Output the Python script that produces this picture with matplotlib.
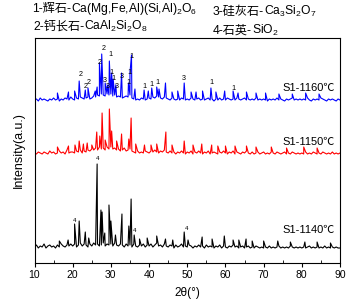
import numpy as np
import matplotlib
matplotlib.use('Agg')
import matplotlib.pyplot as plt

plt.rcParams['font.family'] = ['Liberation Sans', 'Noto Sans CJK SC']
plt.rcParams['mathtext.fontset'] = 'custom'
plt.rcParams['mathtext.rm'] = 'Liberation Sans'
plt.rcParams['mathtext.it'] = 'Liberation Sans:italic'

# 2theta sampling of the background, 10..90 deg every 0.5 deg
grid = np.arange(10, 90.01, 0.5)

# background noise (units ~ pixels above baseline)
blue_noise = [2, 3, 1, 4, 2, 3, 2, 1, 3, 2, 4, 2, 3, 1, 3, 2, 4, 3, 2, 5,
              3, 2, 4, 3, 5, 4, 3, 4, 5, 3, 4, 6, 5, 7, 6, 8, 7, 6, 8, 7,
              8, 6, 7, 5, 6, 5, 4, 5, 6, 5, 7, 4, 3, 2, 3, 2, 4, 3, 2, 3,
              4, 3, 5, 4, 6, 5, 4, 3, 5, 4, 3, 2, 4, 3, 2, 3, 2, 4, 3, 2,
              3, 2, 4, 3, 2, 3, 4, 2, 3, 2, 3, 4, 2, 3, 1, 3, 2, 4, 2, 3,
              2, 4, 3, 2, 3, 2, 4, 3, 2, 3, 4, 2, 3, 2, 3, 2, 4, 2, 3, 2,
              3, 2, 1, 3, 2, 3, 2, 4, 2, 3, 2, 1, 3, 2, 3, 4, 2, 3, 2, 3,
              2, 3, 2, 4, 2, 1, 3, 2, 3, 2, 4, 3, 2, 1, 3, 2, 3, 2, 1, 3, 2]
red_noise = [3, 2, 4, 3, 2, 4, 3, 2, 5, 3, 4, 2, 3, 5, 3, 4, 2, 6, 3, 4,
             4, 3, 5, 4, 6, 3, 5, 4, 6, 5, 7, 6, 8, 6, 9, 7, 8, 6, 9, 7,
             9, 7, 8, 6, 7, 5, 6, 8, 5, 6, 7, 5, 4, 3, 5, 3, 4, 3, 5, 4,
             3, 5, 4, 6, 4, 3, 5, 4, 6, 4, 3, 5, 3, 4, 2, 4, 3, 5, 3, 2,
             4, 3, 5, 2, 4, 3, 5, 3, 2, 4, 3, 5, 2, 3, 4, 3, 2, 4, 3, 5,
             3, 2, 4, 3, 5, 2, 4, 3, 2, 4, 3, 5, 3, 2, 4, 2, 3, 4, 2, 3,
             4, 2, 3, 2, 4, 3, 2, 4, 3, 2, 3, 4, 2, 3, 2, 4, 3, 2, 3, 2,
             3, 2, 4, 2, 3, 2, 4, 3, 2, 3, 2, 4, 3, 2, 3, 2, 4, 2, 3, 2, 3]
black_noise = [3, 5, 2, 4, 3, 6, 2, 4, 5, 3, 4, 2, 5, 3, 6, 4, 3, 5, 4, 6,
               4, 6, 3, 5, 7, 4, 6, 5, 3, 6, 4, 7, 5, 6, 4, 5, 7, 4, 6, 5,
               6, 4, 7, 5, 4, 6, 5, 3, 6, 4, 5, 3, 6, 4, 3, 5, 4, 6, 3, 5,
               4, 6, 3, 5, 7, 4, 5, 3, 6, 4, 3, 5, 4, 2, 5, 3, 4, 6, 3, 4,
               3, 5, 4, 2, 4, 3, 5, 3, 4, 2, 5, 3, 4, 3, 2, 4, 3, 5, 2, 4,
               3, 2, 4, 3, 5, 3, 4, 2, 3, 4, 2, 3, 4, 2, 3, 2, 4, 3, 2, 3,
               2, 3, 2, 4, 2, 3, 2, 3, 4, 2, 3, 2, 3, 2, 4, 3, 2, 3, 2, 3,
               2, 3, 2, 3, 4, 2, 3, 2, 3, 2, 3, 2, 4, 2, 3, 2, 3, 2, 3, 2, 2]

# diffraction peaks: position (2theta) and height above background
blue_pos = [16.0, 18.9, 20.5, 21.7, 23.3, 24.0, 25.9, 26.4, 27.0, 27.6, 28.5, 29.1,
            29.6, 30.2, 30.6, 31.3, 32.8, 34.6, 35.0, 35.4, 36.3, 38.7, 39.8, 40.7,
            42.0, 42.6, 44.3, 46.0, 47.5, 49.2, 51.0, 52.3, 54.0, 56.2, 57.5, 59.8,
            62.0, 63.3, 65.5, 68.0, 70.5, 74.0, 77.5, 81.0, 84.5]
blue_h = [6, 7, 8, 18, 9, 11, 8, 12, 36, 45, 16, 14,
          38, 26, 20, 14, 26, 16, 26, 44, 10, 9, 8, 11,
          12, 10, 16, 7, 8, 16, 7, 7, 8, 11, 7, 8,
          8, 6, 7, 6, 6, 5, 5, 6, 5]
red_pos = [16.0, 18.9, 20.6, 21.7, 22.8, 23.8, 25.0, 26.3, 27.1, 27.7, 28.5, 29.6,
           30.2, 31.5, 32.8, 34.7, 35.3, 36.5, 38.8, 40.5, 42.0, 44.4, 46.0, 49.2,
           51.5, 53.8, 56.4, 58.0, 60.0, 62.5, 65.5, 68.0, 72.0, 76.0, 80.5, 84.0]
red_h = [6, 7, 8, 12, 9, 10, 8, 21, 17, 40, 13, 44,
         22, 12, 19, 14, 35, 9, 8, 8, 9, 21, 8, 12,
         8, 9, 8, 7, 7, 7, 7, 6, 6, 5, 6, 5]
black_pos = [16.5, 18.8, 20.5, 21.7, 23.3, 24.2, 26.4, 27.4, 27.7, 28.4, 29.5, 30.0,
             31.2, 32.9, 34.7, 35.3, 36.1, 37.5, 39.5, 42.0, 44.3, 46.2, 49.2, 50.2,
             53.9, 56.5, 59.7, 62.0, 63.5, 65.4, 67.0, 70.0, 73.7, 77.0, 80.8, 84.0, 87.5]
black_h = [6, 7, 23, 26, 15, 9, 83, 37, 35, 14, 42, 26,
           12, 33, 21, 48, 12, 8, 9, 11, 8, 7, 15, 7,
           10, 8, 11, 7, 7, 8, 6, 6, 6, 5, 5, 5, 4]

# phase marks on the 1160 pattern and the 1140 pattern
blue_marks_x = [22.2, 23.5, 24.3, 27.0, 28.0, 29.8, 30.2, 28.4, 29.3, 30.8, 31.5,
                32.9, 34.5, 34.9, 35.5, 38.7, 40.7, 42.1, 49.1, 56.4, 62.0]
blue_marks_y = [189, 176, 181, 200, 214, 208, 190, 183, 176, 184, 176,
                187, 180, 190, 206, 176, 178, 180, 184, 180, 174]
blue_marks = ['2', '2', '2', '2', '2', '1', '1', '3', '3', '1', '3',
              '3', '1', '1', '1', '1', '1', '1', '3', '1', '1']
black_marks_x = [20.4, 26.4, 36.3, 49.9]
black_marks_y = [43, 104, 33, 35]

samples = ['S1-1160℃', 'S1-1150℃', 'S1-1140℃']
colors = ['#0000ff', '#ff0000', '#000000']
bases = [161, 107, 13]
label_y = [175, 121, 33]


def pattern(noise, pos, h, base):
    x = np.concatenate([grid, pos])
    y = np.concatenate([np.array(noise, float), np.array(h, float) + 3]) + base
    order = np.argsort(x, kind='stable')
    return x[order], y[order]


fig = plt.figure(figsize=(3.49, 3.01), dpi=100)
ax = fig.add_axes([34.5 / 349, 38 / 301, 305.5 / 349, 225 / 301])

data = [(blue_noise, blue_pos, blue_h), (red_noise, red_pos, red_h),
        (black_noise, black_pos, black_h)]
for (noise, pos, h), c, b, name, ly in zip(data, colors, bases, samples, label_y):
    x, y = pattern(noise, pos, h, b)
    ax.plot(x, y, color=c, lw=0.8)
    ax.text(88.7, ly, name, ha='right', va='center', fontsize=8)

for mx, my, m in zip(blue_marks_x, blue_marks_y, blue_marks):
    ax.text(mx, my, m, ha='center', va='center', fontsize=5.2)
for mx, my in zip(black_marks_x, black_marks_y):
    ax.text(mx, my, '4', ha='center', va='center', fontsize=4.5)

ax.set_xlim(10, 90)
ax.set_ylim(0, 225)
ax.set_xticks(range(10, 91, 10))
ax.set_xticks(range(15, 90, 10), minor=True)
ax.set_yticks([])
ax.tick_params(axis='x', which='major', direction='out', length=3, labelsize=7.5, pad=2)
ax.tick_params(axis='x', which='minor', direction='in', length=2)
for s in ax.spines.values():
    s.set_linewidth(0.8)
ax.set_xlabel('2θ(°)', fontsize=8.5, labelpad=5)
ax.set_ylabel('Intensity(a.u.)', fontsize=9, labelpad=7)

# phase legend above the axes, pieces placed one after another
renderer = fig.canvas.get_renderer()


def write_parts(x_px, y_px, parts, size=8.7):
    for s in parts:
        t = fig.text(x_px / 349, 1 - y_px / 301, s, fontsize=size, ha='left', va='baseline')
        x_px += t.get_window_extent(renderer).width


write_parts(32, 12, ['1-辉石-', r'Ca(Mg,Fe,Al)(Si,Al)$_2$O$_6$'])
write_parts(33, 29.5, ['2-钙长石-', r'CaAl$_2$Si$_2$O$_8$'])
write_parts(213, 14.5, ['3-硅灰石-', r'Ca$_3$Si$_2$O$_7$'])
write_parts(213, 33.5, ['4-石英-', r'SiO$_2$'])

fig.savefig('out.png', dpi=100)
